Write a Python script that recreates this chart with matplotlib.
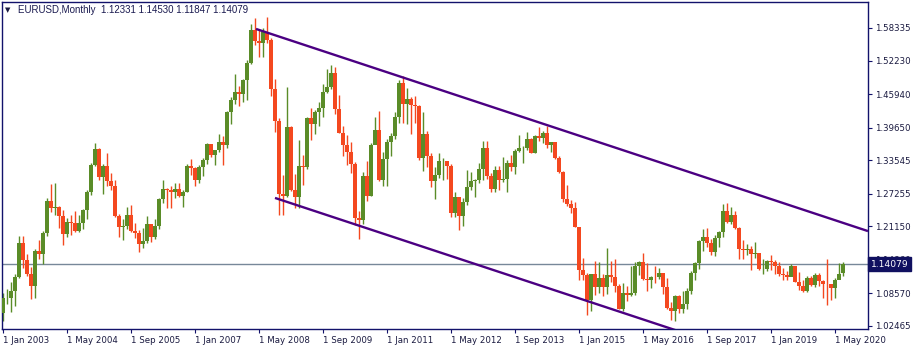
import matplotlib
matplotlib.use("Agg")
import matplotlib.pyplot as plt
import numpy as np

#----------monthly candles, Jan 2003 .. Jul 2020----------
opens = (
    [1.0487, 1.0765, 1.0780, 1.0905, 1.1160, 1.1800, 1.1490, 1.1230, 1.0990, 1.1650, 1.1600, 1.1990] +
    [1.2590, 1.2450, 1.2470, 1.2300, 1.1970, 1.2200, 1.2170, 1.2030, 1.2170, 1.2430, 1.2760, 1.3260] +
    [1.3560, 1.3040, 1.3250, 1.2960, 1.2870, 1.2300, 1.2100, 1.2120, 1.2330, 1.2030, 1.1990, 1.1790] +
    [1.1840, 1.2150, 1.1920, 1.2120, 1.2620, 1.2810, 1.2790, 1.2760, 1.2810, 1.2680, 1.2760, 1.3240] +
    [1.3200, 1.2990, 1.3220, 1.3360, 1.3650, 1.3450, 1.3540, 1.3690, 1.3630, 1.4260, 1.4490, 1.4630] +
    [1.4590, 1.4860, 1.5180, 1.5790, 1.5580, 1.5550, 1.5760, 1.5610, 1.4680, 1.4080, 1.2730, 1.2690] +
    [1.3970, 1.2800, 1.2670, 1.3250, 1.3230, 1.4150, 1.4030, 1.4250, 1.4330, 1.4640, 1.4720, 1.4990] +
    [1.4320, 1.3860, 1.3630, 1.3510, 1.3290, 1.2270, 1.2230, 1.3050, 1.2690, 1.3630, 1.3920, 1.2990] +
    [1.3370, 1.3690, 1.3800, 1.4160, 1.4800, 1.4400, 1.4500, 1.4390, 1.4370, 1.3390, 1.3850, 1.3440] +
    [1.2960, 1.3080, 1.3330, 1.3340, 1.3240, 1.2370, 1.2660, 1.2300, 1.2580, 1.2860, 1.2960, 1.2990] +
    [1.3190, 1.3580, 1.3060, 1.2820, 1.3170, 1.2990, 1.3010, 1.3300, 1.3220, 1.3530, 1.3580, 1.3590] +
    [1.3750, 1.3490, 1.3800, 1.3770, 1.3870, 1.3630, 1.3690, 1.3390, 1.3130, 1.2630, 1.2530, 1.2450] +
    [1.2100, 1.1290, 1.1200, 1.0730, 1.1220, 1.0980, 1.1150, 1.0980, 1.1210, 1.1170, 1.1000, 1.0560] +
    [1.0860, 1.0830, 1.0870, 1.1380, 1.1450, 1.1130, 1.1100, 1.1170, 1.1160, 1.1240, 1.0980, 1.0590] +
    [1.0520, 1.0800, 1.0570, 1.0650, 1.0900, 1.1240, 1.1420, 1.1840, 1.1910, 1.1810, 1.1640, 1.1900] +
    [1.2000, 1.2410, 1.2190, 1.2320, 1.2080, 1.1690, 1.1680, 1.1690, 1.1600, 1.1610, 1.1310, 1.1320] +
    [1.1470, 1.1450, 1.1370, 1.1220, 1.1210, 1.1170, 1.1370, 1.1080, 1.0990, 1.0900, 1.1150, 1.1020] +
    [1.1210, 1.1090, 1.1030, 1.1025, 1.0950, 1.1100, 1.12331]
)
highs = (
    [1.0873, 1.0935, 1.1080, 1.1230, 1.1930, 1.1933, 1.1590, 1.1350, 1.1690, 1.1860, 1.2020, 1.2650] +
    [1.2900, 1.2930, 1.2500, 1.2420, 1.2280, 1.2330, 1.2400, 1.2330, 1.2440, 1.2800, 1.3300, 1.3670] +
    [1.3580, 1.3280, 1.3480, 1.3120, 1.2980, 1.2340, 1.2260, 1.2470, 1.2520, 1.2180, 1.2050, 1.2090] +
    [1.2300, 1.2150, 1.2250, 1.2640, 1.2980, 1.2830, 1.2880, 1.2920, 1.2920, 1.2790, 1.3280, 1.3370] +
    [1.3220, 1.3260, 1.3390, 1.3680, 1.3650, 1.3540, 1.3850, 1.3800, 1.4280, 1.4530, 1.4970, 1.4750] +
    [1.4880, 1.5240, 1.5900, 1.6020, 1.5820, 1.5840, 1.6040, 1.5650, 1.4870, 1.4150, 1.3080, 1.4720] +
    [1.4000, 1.3090, 1.3740, 1.3460, 1.4170, 1.4340, 1.4300, 1.4450, 1.4790, 1.5060, 1.5140, 1.5100] +
    [1.4580, 1.3990, 1.3820, 1.3690, 1.3320, 1.2410, 1.3130, 1.3330, 1.3680, 1.4160, 1.4280, 1.3500] +
    [1.3760, 1.3860, 1.4250, 1.4860, 1.4940, 1.4700, 1.4530, 1.4550, 1.4380, 1.4250, 1.3900, 1.3480] +
    [1.3230, 1.3490, 1.3390, 1.3290, 1.3280, 1.2750, 1.2670, 1.2640, 1.3170, 1.3140, 1.3010, 1.3310] +
    [1.3710, 1.3710, 1.3110, 1.3240, 1.3240, 1.3420, 1.3350, 1.3450, 1.3570, 1.3830, 1.3620, 1.3890] +
    [1.3770, 1.3820, 1.3970, 1.3900, 1.3990, 1.3700, 1.3700, 1.3440, 1.3150, 1.2890, 1.2610, 1.2570] +
    [1.2110, 1.1530, 1.1240, 1.1230, 1.1460, 1.1440, 1.1220, 1.1710, 1.1460, 1.1500, 1.1040, 1.1050] +
    [1.0990, 1.1380, 1.1440, 1.1460, 1.1620, 1.1430, 1.1190, 1.1370, 1.1330, 1.1240, 1.1140, 1.0690] +
    [1.0830, 1.0830, 1.0910, 1.0950, 1.1270, 1.1450, 1.1850, 1.2070, 1.2090, 1.1880, 1.1960, 1.2020] +
    [1.2540, 1.2560, 1.2480, 1.2410, 1.2100, 1.1850, 1.1790, 1.1740, 1.1820, 1.1620, 1.1500, 1.1490] +
    [1.1570, 1.1490, 1.1450, 1.1330, 1.1270, 1.1410, 1.1290, 1.1250, 1.1110, 1.1180, 1.1180, 1.1240] +
    [1.1240, 1.1110, 1.1500, 1.1000, 1.1140, 1.1420, 1.14530]
)
lows = (
    [1.0337, 1.0660, 1.0500, 1.0620, 1.1140, 1.1340, 1.1180, 1.0760, 1.0765, 1.1500, 1.1400, 1.1930] +
    [1.2390, 1.2320, 1.2080, 1.1760, 1.1910, 1.1960, 1.2010, 1.2000, 1.2060, 1.2260, 1.2700, 1.3250] +
    [1.2980, 1.2730, 1.2880, 1.2800, 1.2290, 1.1910, 1.1860, 1.2070, 1.2000, 1.1900, 1.1640, 1.1700] +
    [1.1800, 1.1820, 1.1870, 1.2060, 1.2560, 1.2460, 1.2460, 1.2650, 1.2660, 1.2480, 1.2760, 1.3080] +
    [1.2870, 1.2930, 1.3050, 1.3280, 1.3410, 1.3260, 1.3500, 1.3260, 1.3580, 1.4040, 1.4400, 1.4370] +
    [1.4450, 1.4490, 1.5150, 1.5510, 1.5280, 1.5280, 1.5560, 1.4560, 1.3880, 1.2330, 1.2330, 1.2660] +
    [1.2770, 1.2460, 1.2460, 1.2890, 1.3190, 1.3740, 1.3850, 1.4000, 1.4170, 1.4610, 1.4690, 1.4220] +
    [1.3860, 1.3440, 1.3270, 1.3110, 1.2140, 1.1880, 1.2150, 1.2590, 1.2690, 1.3690, 1.2970, 1.2870] +
    [1.2870, 1.3430, 1.3750, 1.4060, 1.4060, 1.4040, 1.3840, 1.4050, 1.3360, 1.3150, 1.3220, 1.2860] +
    [1.2620, 1.3020, 1.2980, 1.3000, 1.2290, 1.2290, 1.2040, 1.2130, 1.2510, 1.2800, 1.2660, 1.2930] +
    [1.2990, 1.3010, 1.2750, 1.2750, 1.2800, 1.2950, 1.2750, 1.3160, 1.3100, 1.3500, 1.3300, 1.3540] +
    [1.3480, 1.3480, 1.3720, 1.3670, 1.3590, 1.3500, 1.3370, 1.3110, 1.2570, 1.2500, 1.2360, 1.2100] +
    [1.1100, 1.1100, 1.0460, 1.0520, 1.0820, 1.0870, 1.0810, 1.0850, 1.1080, 1.0890, 1.0560, 1.0520] +
    [1.0710, 1.0810, 1.0820, 1.1210, 1.1100, 1.0910, 1.0950, 1.1050, 1.1120, 1.0850, 1.0570, 1.0350] +
    [1.0340, 1.0490, 1.0490, 1.0570, 1.0840, 1.1110, 1.1310, 1.1660, 1.1720, 1.1570, 1.1550, 1.1720] +
    [1.1920, 1.2180, 1.2150, 1.2060, 1.1510, 1.1510, 1.1580, 1.1300, 1.1530, 1.1300, 1.1220, 1.1270] +
    [1.1290, 1.1230, 1.1180, 1.1110, 1.1110, 1.1180, 1.1070, 1.0930, 1.0880, 1.0880, 1.0990, 1.0980] +
    [1.0990, 1.0780, 1.0640, 1.0730, 1.0770, 1.1170, 1.11847]
)
closes = (
    [1.0765, 1.0780, 1.0905, 1.1160, 1.1800, 1.1490, 1.1230, 1.0990, 1.1650, 1.1600, 1.1990, 1.2590] +
    [1.2450, 1.2470, 1.2300, 1.1970, 1.2200, 1.2170, 1.2030, 1.2170, 1.2430, 1.2760, 1.3260, 1.3560] +
    [1.3040, 1.3250, 1.2960, 1.2870, 1.2300, 1.2100, 1.2120, 1.2330, 1.2030, 1.1990, 1.1790, 1.1840] +
    [1.2150, 1.1920, 1.2120, 1.2620, 1.2810, 1.2790, 1.2760, 1.2810, 1.2680, 1.2760, 1.3240, 1.3200] +
    [1.2990, 1.3220, 1.3360, 1.3650, 1.3450, 1.3540, 1.3690, 1.3630, 1.4260, 1.4490, 1.4630, 1.4590] +
    [1.4860, 1.5180, 1.5790, 1.5580, 1.5550, 1.5760, 1.5610, 1.4680, 1.4080, 1.2730, 1.2690, 1.3970] +
    [1.2800, 1.2670, 1.3250, 1.3230, 1.4150, 1.4030, 1.4250, 1.4330, 1.4640, 1.4720, 1.4990, 1.4320] +
    [1.3860, 1.3630, 1.3510, 1.3290, 1.2270, 1.2230, 1.3050, 1.2690, 1.3630, 1.3920, 1.2990, 1.3370] +
    [1.3690, 1.3800, 1.4160, 1.4800, 1.4400, 1.4500, 1.4390, 1.4370, 1.3390, 1.3850, 1.3440, 1.2960] +
    [1.3080, 1.3330, 1.3340, 1.3240, 1.2370, 1.2660, 1.2300, 1.2580, 1.2860, 1.2960, 1.2990, 1.3190] +
    [1.3580, 1.3060, 1.2820, 1.3170, 1.2990, 1.3010, 1.3300, 1.3220, 1.3530, 1.3580, 1.3590, 1.3750] +
    [1.3490, 1.3800, 1.3770, 1.3870, 1.3630, 1.3690, 1.3390, 1.3130, 1.2630, 1.2530, 1.2450, 1.2100] +
    [1.1290, 1.1200, 1.0730, 1.1220, 1.0980, 1.1150, 1.0980, 1.1210, 1.1170, 1.1000, 1.0560, 1.0860] +
    [1.0830, 1.0870, 1.1380, 1.1450, 1.1130, 1.1100, 1.1170, 1.1160, 1.1240, 1.0980, 1.0590, 1.0520] +
    [1.0800, 1.0570, 1.0650, 1.0900, 1.1240, 1.1420, 1.1840, 1.1910, 1.1810, 1.1640, 1.1900, 1.2000] +
    [1.2410, 1.2190, 1.2320, 1.2080, 1.1690, 1.1680, 1.1690, 1.1600, 1.1610, 1.1310, 1.1320, 1.1470] +
    [1.1450, 1.1370, 1.1220, 1.1210, 1.1170, 1.1370, 1.1080, 1.0990, 1.0900, 1.1150, 1.1020, 1.1210] +
    [1.1090, 1.1030, 1.1025, 1.0950, 1.1100, 1.1230, 1.14079]
)

#----------axis labels and drawn objects----------
xtick_months = [0, 16, 32, 48, 64, 80, 96, 112, 128, 144, 160, 176, 192, 208]
xtick_labels = ["1 Jan 2003", "1 May 2004", "1 Sep 2005", "1 Jan 2007", "1 May 2008",
                "1 Sep 2009", "1 Jan 2011", "1 May 2012", "1 Sep 2013", "1 Jan 2015",
                "1 May 2016", "1 Sep 2017", "1 Jan 2019", "1 May 2020"]
ytick_values = [1.58335, 1.52230, 1.45940, 1.39650, 1.33545, 1.27255, 1.21150,
                1.14860, 1.08570, 1.02465]
upper_x = [63.25, 216.25]
upper_y = [1.5815, 1.2025]
lower_x = [68.0, 170.0]
lower_y = [1.2647, 1.0122]
last_price = 1.14079
header = "EURUSD,Monthly  1.12331 1.14530 1.11847 1.14079"

navy = "#12126b"
txt = "#1a1a40"
up_col = "#5a8c28"
dn_col = "#f4481f"

o = np.array(opens)
h = np.array(highs)
l = np.array(lows)
c = np.array(closes)
x = np.arange(len(c))
cols = np.where(c >= o, up_col, dn_col)

fig = plt.figure(figsize=(9.15, 3.5), dpi=100)
ax = fig.add_axes([2 / 915, 21 / 350, 866 / 915, 327 / 350])

ax.axhline(last_price, color="#778899", lw=1.0, zorder=1)
ax.vlines(x, l, h, colors=cols, lw=1.0, zorder=2)
body = np.maximum(np.abs(c - o), 0.0009)
ax.bar(x, body, bottom=np.minimum(o, c), width=0.8, color=cols, lw=0, zorder=3)

ax.plot(upper_x, upper_y, color="#4b0082", lw=1.7, zorder=4, solid_capstyle="butt")
ax.plot(lower_x, lower_y, color="#4b0082", lw=1.7, zorder=4, solid_capstyle="butt")

ax.set_xlim(-0.25, 216.25)
ax.set_ylim(1.0190, 1.6320)

ax.yaxis.tick_right()
ax.set_yticks(ytick_values)
ax.set_yticklabels(["%.5f" % v for v in ytick_values])
ax.set_xticks(xtick_months)
ax.set_xticklabels(xtick_labels, ha="left")
ax.tick_params(axis="both", direction="out", length=3, width=0.8, colors=navy,
               labelsize=6.2, labelcolor=txt, pad=2)
for s in ax.spines.values():
    s.set_color(navy)
    s.set_linewidth(1.0)

ax.text(1.003, last_price, "1.14079", transform=ax.get_yaxis_transform(),
        ha="left", va="center", fontsize=6.6, color="white", clip_on=False, zorder=10,
        bbox=dict(boxstyle="square,pad=0.3", fc="#101060", ec="#101060"))

fig.text(5 / 915, 1 - 10 / 350, "\u25bc", fontsize=5, color=txt, va="center")
fig.text(18 / 915, 1 - 10 / 350, header, fontsize=7, color="#1a1a50", va="center",
         family="Liberation Sans")

fig.savefig("out.png", dpi=100, facecolor="white")
